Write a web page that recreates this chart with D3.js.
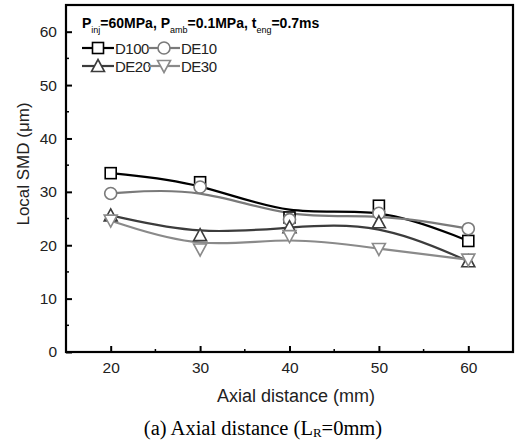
<!DOCTYPE html>
<html><head><meta charset="utf-8">
<script src="https://cdn.jsdelivr.net/npm/d3@7"></script>
<style>body{margin:0;background:#fff}svg{display:block}</style>
</head><body>
<svg id="c" width="516" height="445"></svg>
<script>
const xVals = [20, 30, 40, 50, 60];
const seriesNames = ["D100", "DE10", "DE20", "DE30"];
const d100 = [33.5, 31.8, 25.2, 27.4, 20.8];
const de10 = [29.7, 30.9, 24.8, 26.0, 23.1];
const de20 = [25.6, 21.9, 23.4, 24.3, 17.0];
const de30 = [24.6, 19.2, 21.7, 19.3, 17.3];
const xTicks = [20, 30, 40, 50, 60];
const yTicks = [0, 10, 20, 30, 40, 50, 60];

const svg = d3.select("#c");
const L = 66, R = 513, T = 5, B = 352;
const x = d3.scaleLinear().domain([15, 65]).range([L, R]);
const y = d3.scaleLinear().domain([0, 65]).range([B, T]);
const SANS = "Liberation Sans, Arial, sans-serif";

const colors = ["#000", "#7a7a7a", "#3c3c3c", "#8a8a8a"];
const symbols = ["square", "circle", "tri", "tridown"];
const data = [d100, de10, de20, de30];

// minor ticks
const g = svg.append("g");
const xMinor = d3.range(25, 65, 10);
const yMinor = d3.range(5, 65, 10);
g.selectAll(".xm").data(xMinor).enter().append("line")
  .attr("x1", d => x(d)).attr("x2", d => x(d)).attr("y1", B).attr("y2", B - 3)
  .attr("stroke", "#000").attr("stroke-width", 1.5);
g.selectAll(".ym").data(yMinor).enter().append("line")
  .attr("y1", d => y(d)).attr("y2", d => y(d)).attr("x1", L).attr("x2", L + 3)
  .attr("stroke", "#000").attr("stroke-width", 1.5);

// axes
const xAxis = d3.axisBottom(x).tickValues(xTicks).tickSizeInner(-6).tickSizeOuter(0).tickPadding(10);
const yAxis = d3.axisLeft(y).tickValues(yTicks).tickSizeInner(-6).tickSizeOuter(0).tickPadding(9);
const gx = svg.append("g").attr("transform", `translate(0,${B})`).call(xAxis);
const gy = svg.append("g").attr("transform", `translate(${L},0)`).call(yAxis);
[gx, gy].forEach(a => {
  a.select(".domain").remove();
  a.selectAll("line").attr("stroke-width", 2);
  a.selectAll("text").attr("font-family", SANS).attr("font-size", 15.5).attr("fill", "#222");
});

// frame
svg.append("rect").attr("x", L).attr("y", T).attr("width", R - L).attr("height", B - T)
  .attr("fill", "none").attr("stroke", "#000").attr("stroke-width", 2.2);

// lines
const line = d3.line().x((d, i) => x(xVals[i])).y(d => y(d)).curve(d3.curveBasis);
data.forEach((s, k) => {
  svg.append("path").attr("d", line(s)).attr("fill", "none")
    .attr("stroke", colors[k]).attr("stroke-width", 2.2);
});

function marker(sel, type, cx, cy, col) {
  const s = 5.5;
  if (type === "square") {
    sel.append("rect").attr("x", cx - s).attr("y", cy - s).attr("width", 2 * s).attr("height", 2 * s)
      .attr("fill", "#fff").attr("stroke", col).attr("stroke-width", 1.6);
  } else if (type === "circle") {
    sel.append("circle").attr("cx", cx).attr("cy", cy).attr("r", s + 0.5)
      .attr("fill", "#fff").attr("stroke", col).attr("stroke-width", 1.6);
  } else if (type === "tri") {
    sel.append("path").attr("d", `M${cx},${cy - s - 1}L${cx + s + 1},${cy + s}L${cx - s - 1},${cy + s}Z`)
      .attr("fill", "#fff").attr("stroke", col).attr("stroke-width", 1.6);
  } else {
    sel.append("path").attr("d", `M${cx},${cy + s + 1}L${cx + s + 1},${cy - s}L${cx - s - 1},${cy - s}Z`)
      .attr("fill", "#fff").attr("stroke", col).attr("stroke-width", 1.6);
  }
}
data.forEach((s, k) => {
  const gm = svg.append("g");
  s.forEach((v, i) => marker(gm, symbols[k], x(xVals[i]), y(v), colors[k]));
});

// title in plot
const tt = svg.append("text").attr("x", 82).attr("y", 28)
  .attr("font-family", SANS).attr("font-size", 14)
  .attr("font-weight", "bold").attr("fill", "#000");
tt.append("tspan").text("P");
tt.append("tspan").attr("dy", 5).attr("font-size", 9).attr("font-weight", "normal").text("inj");
tt.append("tspan").attr("dy", -5).text("=60MPa, P");
tt.append("tspan").attr("dy", 5).attr("font-size", 9).attr("font-weight", "normal").text("amb");
tt.append("tspan").attr("dy", -5).text("=0.1MPa, t");
tt.append("tspan").attr("dy", 5).attr("font-size", 9).attr("font-weight", "normal").text("eng");
tt.append("tspan").attr("dy", -5).text("=0.7ms");

// legend
const legPos = [[82, 48], [148, 48], [82, 66], [148, 66]];
seriesNames.forEach((n, k) => {
  const [lx, ly] = legPos[k];
  svg.append("line").attr("x1", lx).attr("x2", lx + 32).attr("y1", ly).attr("y2", ly)
    .attr("stroke", colors[k]).attr("stroke-width", 2.2);
  marker(svg, symbols[k], lx + 16, ly, colors[k]);
  svg.append("text").attr("x", lx + 33).attr("y", ly + 5.5).text(n)
    .attr("font-family", SANS).attr("font-size", 15).attr("fill", "#222").attr("letter-spacing", -0.5);
});

// axis titles
svg.append("text").attr("x", 296).attr("y", 402).attr("text-anchor", "middle")
  .attr("font-family", SANS).attr("font-size", 18).attr("fill", "#222")
  .text("Axial distance (mm)");
svg.append("text").attr("transform", "translate(29,164) rotate(-90)").attr("text-anchor", "middle")
  .attr("font-family", SANS).attr("font-size", 17).attr("fill", "#222")
  .text("Local SMD  (μm)");

// caption
const cap = svg.append("text").attr("x", 263).attr("y", 435).attr("text-anchor", "middle")
  .attr("font-family", "Liberation Serif, Times New Roman, serif").attr("font-size", 20.5).attr("fill", "#000");
cap.append("tspan").text("(a) Axial distance (L");
cap.append("tspan").attr("font-size", 13).attr("dy", 2).text("R");
cap.append("tspan").attr("dy", -2).text("=0mm)");
</script>
</body></html>
